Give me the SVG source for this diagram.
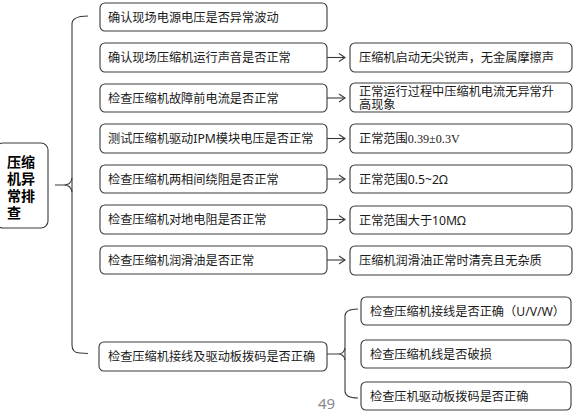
<svg xmlns="http://www.w3.org/2000/svg" width="576" height="415" viewBox="0 0 576 415">
<defs>
<style>
.box{fill:#fff;stroke:#3a3a3a;stroke-width:1.1}
.t{font-family:"Noto Sans","Noto Sans CJK SC",sans-serif;font-size:12.2px;fill:#1a1a1a}
.root{font-family:"Noto Sans","Noto Sans CJK SC",sans-serif;font-size:14px;font-weight:bold;fill:#000}
.serif{font-family:"Liberation Serif","Noto Sans CJK SC",serif}
.ln{fill:none;stroke:#3a3a3a;stroke-width:1.1}
.pg{font-family:"Noto Sans","Noto Sans CJK SC",sans-serif;font-size:15px;fill:#8a8a8a}
</style>
<marker id="arr" markerWidth="8" markerHeight="10" refX="7" refY="5" orient="auto" markerUnits="userSpaceOnUse">
<path d="M1,1 L7,5 L1,9" fill="none" stroke="#3a3a3a" stroke-width="1.1"/>
</marker>
</defs>
<rect width="576" height="415" fill="#fff"/>

<g id="connectors">
<path class="ln" d="M88,16 Q72,16 72,24 L72,345 Q72,353 80,353 L88,353.5"/>
<path class="ln" d="M55,185 L64,185 Q71,185 72,178 M64,185 Q71,185 72,192"/>
<path class="ln" d="M327,57.5 L345,57.5" marker-end="url(#arr)"/>
<path class="ln" d="M327,98 L345,98" marker-end="url(#arr)"/>
<path class="ln" d="M327,138.5 L345,138.5" marker-end="url(#arr)"/>
<path class="ln" d="M327,179 L345,179" marker-end="url(#arr)"/>
<path class="ln" d="M327,219.5 L345,219.5" marker-end="url(#arr)"/>
<path class="ln" d="M327,260 L345,260" marker-end="url(#arr)"/>
<path class="ln" d="M358,309 Q345,309 345,316 L345,391 Q345,398 358,398"/>
<path class="ln" d="M327,354 L338,354 Q344,354 345,348 M338,354 Q344,354 345,360"/>
</g>

<g id="root">
<rect class="box" x="-4" y="143" width="52" height="85" rx="7"/>
<text class="root" x="7" y="167">压缩</text>
<text class="root" x="7" y="184">机异</text>
<text class="root" x="7" y="201">常排</text>
<text class="root" x="7" y="218">查</text>
</g>

<g id="n1"><rect class="box" x="100" y="3" width="227" height="28" rx="5"/><text class="t" x="108" y="21.5">确认现场电源电压是否异常波动</text></g>
<g id="n2"><rect class="box" x="100" y="43" width="227" height="29" rx="5"/><text class="t" x="108" y="62">确认现场压缩机运行声音是否正常</text></g>
<g id="n3"><rect class="box" x="100" y="84" width="227" height="28" rx="5"/><text class="t" x="108" y="102.5">检查压缩机故障前电流是否正常</text></g>
<g id="n4"><rect class="box" x="100" y="124" width="227" height="29" rx="5"/><text class="t" x="108" y="143">测试压缩机驱动IPM模块电压是否正常</text></g>
<g id="n5"><rect class="box" x="100" y="165" width="227" height="28" rx="5"/><text class="t" x="108" y="183.5">检查压缩机两相间绕阻是否正常</text></g>
<g id="n6"><rect class="box" x="100" y="205" width="227" height="29" rx="5"/><text class="t" x="108" y="224">检查压缩机对地电阻是否正常</text></g>
<g id="n7"><rect class="box" x="100" y="246" width="227" height="28" rx="5"/><text class="t" x="108" y="264.5">检查压缩机润滑油是否正常</text></g>
<g id="n8"><rect class="box" x="99" y="342" width="228" height="29" rx="5"/><text class="t" x="108" y="361">检查压缩机接线及驱动板拨码是否正确</text></g>

<g id="r1"><rect class="box" x="350" y="43" width="222" height="29" rx="5"/><text class="t" x="359" y="62">压缩机启动无尖锐声，无金属摩擦声</text></g>
<g id="r2"><rect class="box" x="350" y="83" width="222" height="29" rx="5"/><text class="t" x="359" y="96">正常运行过程中压缩机电流无异常升</text><text class="t" x="359" y="109">高现象</text></g>
<g id="r3"><rect class="box" x="350" y="124" width="222" height="29" rx="5"/><text class="t" x="359" y="143">正常范围<tspan class="serif">0.39±0.3V</tspan></text></g>
<g id="r4"><rect class="box" x="350" y="165" width="222" height="28" rx="5"/><text class="t" x="359" y="183.5">正常范围0.5~2Ω</text></g>
<g id="r5"><rect class="box" x="350" y="206" width="222" height="28" rx="5"/><text class="t" x="359" y="224.5">正常范围大于10MΩ</text></g>
<g id="r6"><rect class="box" x="350" y="246" width="222" height="29" rx="5"/><text class="t" x="359" y="265">压缩机润滑油正常时清亮且无杂质</text></g>

<g id="s1"><rect class="box" x="361" y="297" width="210" height="28" rx="5"/><text class="t" x="370" y="315.5">检查压缩机接线是否正确（U/V/W）</text></g>
<g id="s2"><rect class="box" x="361" y="340" width="210" height="28" rx="5"/><text class="t" x="370" y="358.5">检查压缩机线是否破损</text></g>
<g id="s3"><rect class="box" x="361" y="382" width="210" height="28" rx="5"/><text class="t" x="370" y="400.5">检查压机驱动板拨码是否正确</text></g>

<text class="pg" x="318" y="408.5">49</text>
</svg>
